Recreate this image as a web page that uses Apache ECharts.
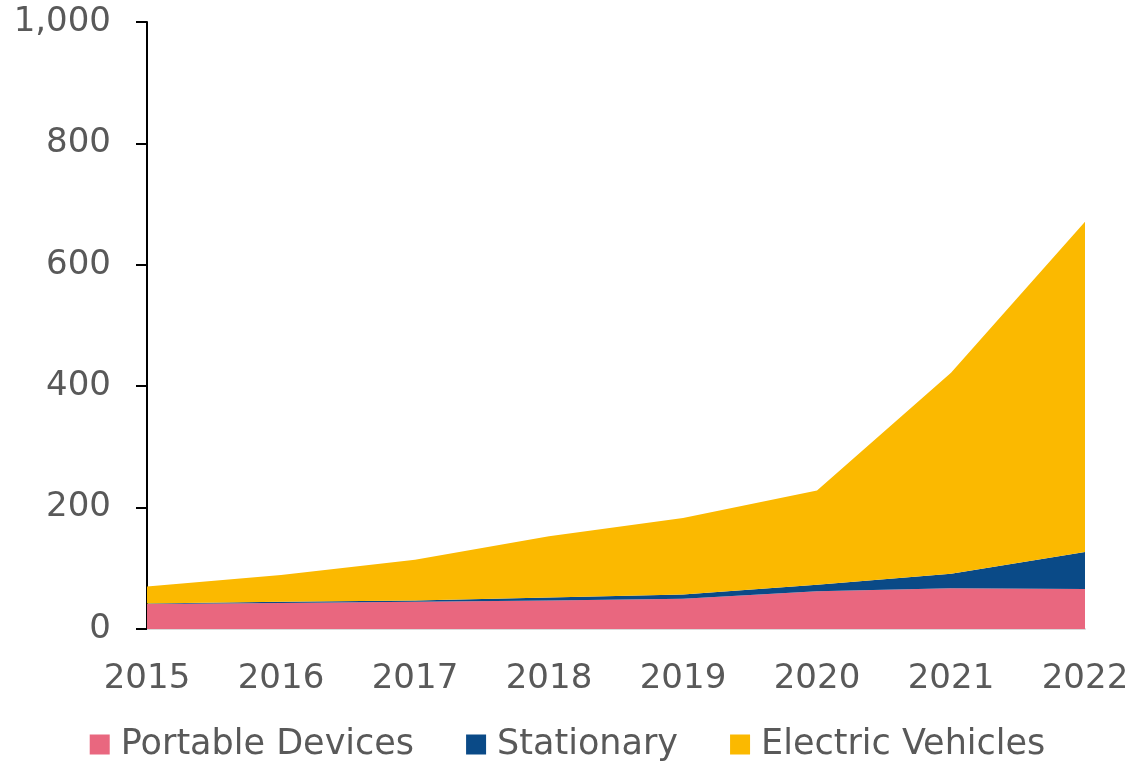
<!DOCTYPE html>
<html>
<head>
<meta charset="utf-8">
<script src="https://cdn.jsdelivr.net/npm/echarts@6/dist/echarts.min.js"></script>
<style>
  html, body { margin: 0; padding: 0; background: #fff; }
  #chart { width: 1135px; height: 767px; }
</style>
</head>
<body>
<div id="chart"></div>
<script>
const years = ['2015', '2016', '2017', '2018', '2019', '2020', '2021', '2022']
const portable = [41, 43, 45, 47, 50, 62, 67, 66]
const stationary = [1, 2, 2, 5, 7, 11, 24, 61]
const electricVehicles = [28, 44, 67, 101, 126, 155, 331, 544]

const font = 'DejaVu Sans'
const textColor = '#595959'

function area(name, data, color) {
  return {
    name: name,
    type: 'line',
    stack: 'total',
    data: data,
    showSymbol: false,
    lineStyle: { width: 0 },
    areaStyle: { color: color, opacity: 1 },
    itemStyle: { color: color },
  }
}

const chart = echarts.init(document.getElementById('chart'))
chart.setOption({
  animation: false,
  grid: { left: 147, right: 50, top: 22, bottom: 138 },
  legend: {
    bottom: 0,
    left: 'center',
    icon: 'rect',
    itemWidth: 20,
    itemHeight: 20,
    itemGap: 52,
    textStyle: { fontFamily: font, fontSize: 35, color: textColor, padding: [0, 0, 0, 6] },
  },
  xAxis: {
    type: 'category',
    data: years,
    boundaryGap: false,
    axisLine: { lineStyle: { color: '#d9d9d9', width: 2 } },
    axisTick: { show: false },
    axisLabel: { fontFamily: font, fontSize: 34, color: textColor, margin: 33 },
  },
  yAxis: {
    type: 'value',
    min: 0,
    max: 1000,
    interval: 200,
    splitLine: { show: false },
    axisLine: { show: true, lineStyle: { color: '#000', width: 2 } },
    axisTick: { show: true, length: 11, lineStyle: { color: '#000', width: 2 } },
    axisLabel: {
      fontFamily: font,
      fontSize: 34,
      color: textColor,
      margin: 36,
      formatter: v => v.toLocaleString('en-US'),
    },
  },
  series: [
    area('Portable Devices', portable, '#E9677F'),
    area('Stationary', stationary, '#0A4A87'),
    area('Electric Vehicles', electricVehicles, '#FBB900'),
  ],
})
</script>
</body>
</html>
